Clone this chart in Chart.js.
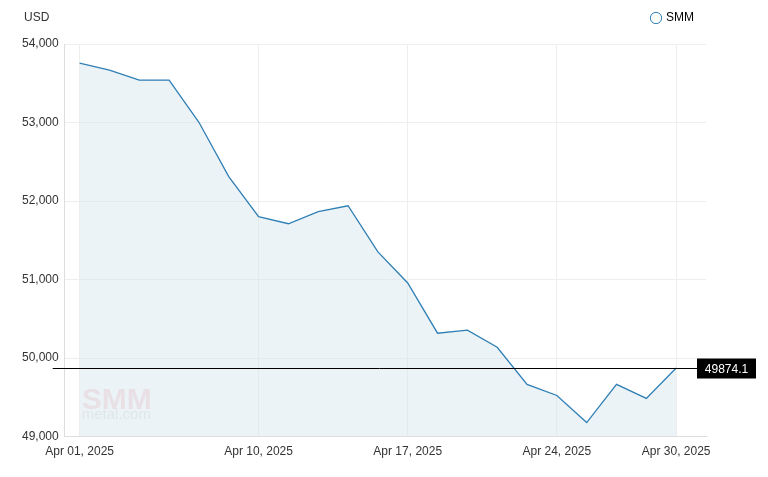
<!DOCTYPE html>
<html lang="en">
<head>
<meta charset="UTF-8" />
<script src="https://cdn.jsdelivr.net/npm/chart.js"></script>
<style>
  html, body { margin: 0; padding: 0; background: #fff; }
</style>
</head>
<body>
<canvas id="c" width="768" height="477"></canvas>
<script>
  const dates = ['Apr 01, 2025','Apr 02, 2025','Apr 03, 2025','Apr 07, 2025','Apr 08, 2025','Apr 09, 2025','Apr 10, 2025',
    'Apr 11, 2025','Apr 14, 2025','Apr 15, 2025','Apr 16, 2025','Apr 17, 2025','Apr 18, 2025','Apr 21, 2025',
    'Apr 22, 2025','Apr 23, 2025','Apr 24, 2025','Apr 25, 2025','Apr 28, 2025','Apr 29, 2025','Apr 30, 2025'];
  const prices = [53757, 53668, 53540, 53540, 53003, 52312, 51800, 51711, 51864, 51940, 51352,
    50956, 50317, 50355, 50138, 49665, 49524, 49179, 49665, 49486, 49874.1];
  const labelIdx = [0, 6, 11, 16, 20];
  const yTicks = [49000, 50000, 51000, 52000, 53000, 54000];

  const lastLine = {
    id: 'lastLine',
    afterDatasetsDraw(chart) {
      const { ctx, chartArea: a, scales: { y } } = chart;
      const v = prices[prices.length - 1];
      const py = Math.round(y.getPixelForValue(v)) + 0.5;
      ctx.save();
      ctx.strokeStyle = '#000'; ctx.lineWidth = 1;
      ctx.beginPath(); ctx.moveTo(a.left - 12, py); ctx.lineTo(a.right, py); ctx.stroke();
      ctx.fillStyle = '#000';
      ctx.fillRect(a.right - 9, py - 10, 59, 20);
      ctx.fillStyle = '#fff'; ctx.font = '12px "Liberation Sans", Arial';
      ctx.textAlign = 'center'; ctx.textBaseline = 'middle';
      ctx.fillText(String(v), a.right + 20.5, py + 1);
      ctx.restore();
    },
    beforeDatasetsDraw(chart) {
      const { ctx, chartArea: a } = chart;
      ctx.save();
      ctx.fillStyle = 'rgba(235,140,140,0.3)';
      ctx.font = 'bold 30px "Liberation Sans", Arial';
      ctx.fillText('SMM', a.left + 17, a.bottom - 36);
      ctx.fillStyle = 'rgba(180,180,180,0.3)';
      ctx.font = '15px "Liberation Sans", Arial';
      ctx.fillText('metal.com', a.left + 17, a.bottom - 22);
      ctx.restore();
    }
  };

  new Chart(document.getElementById('c'), {
    type: 'line',
    data: {
      datasets: [{
        label: 'SMM',
        data: prices.map((p, i) => ({ x: i, y: p })),
        borderColor: '#2f7fb5',
        backgroundColor: 'rgba(210,228,238,0.45)',
        fill: 'start',
        borderWidth: 1.3,
        pointRadius: 0,
        tension: 0
      }]
    },
    options: {
      responsive: false,
      animation: false,
      layout: { padding: { left: 16, right: 62, top: 0, bottom: 10 } },
      plugins: {
        legend: {
          align: 'end',
          labels: {
            usePointStyle: true, boxWidth: 8, boxHeight: 8,
            color: '#333', font: { size: 12, family: '"Liberation Sans", Arial' },
            padding: 12,
            generateLabels: () => [{ text: 'SMM', fillStyle: '#fff', strokeStyle: '#2f7fb5', lineWidth: 1, pointStyle: 'circle' }]
          }
        },
        tooltip: { enabled: false }
      },
      scales: {
        x: {
          type: 'linear', min: -0.5, max: 21,
          afterBuildTicks: s => { s.ticks = labelIdx.map(v => ({ value: v })); },
          ticks: { autoSkip: false, callback: v => dates[v], maxRotation: 0, padding: 8, color: '#333', font: { size: 12, family: '"Liberation Sans", Arial' } },
          grid: { color: '#eeeeee', drawTicks: false },
          border: { color: '#ddd' }
        },
        y: {
          min: 49000, max: 54000,
          afterBuildTicks: s => { s.ticks = yTicks.map(v => ({ value: v })); },
          ticks: { autoSkip: false, callback: v => v.toLocaleString('en-US'), color: '#333', padding: 6, font: { size: 12, family: '"Liberation Sans", Arial' } },
          grid: { color: '#eeeeee', drawTicks: false },
          border: { color: '#ddd' }
        }
      }
    },
    plugins: [lastLine, {
      id: 'unit',
      afterDraw(chart) {
        const ctx = chart.ctx;
        ctx.save(); ctx.fillStyle = '#333'; ctx.font = '12px "Liberation Sans", Arial';
        ctx.fillText('USD', 24, 18); ctx.restore();
      }
    }, {
      id: 'legendGap',
      beforeInit(chart) {
        const orig = chart.legend ? null : null;
      },
      afterInit(chart) {
        const fit = chart.legend.fit;
        chart.legend.fit = function () { fit.call(this); this.height += 10; };
      }
    }]
  });
</script>
</body>
</html>
